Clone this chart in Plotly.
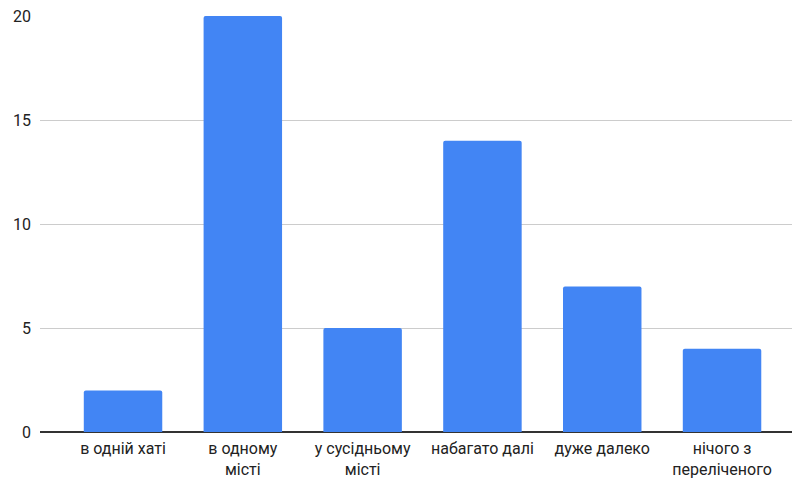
import plotly.graph_objects as go

categories = [
    "в одній хаті",
    "в одному<br>місті",
    "у сусідньому<br>місті",
    "набагато далі",
    "дуже далеко",
    "нічого з<br>переліченого",
]
values = [2, 20, 5, 14, 7, 4]
y_ticks = [0, 5, 10, 15, 20]

fig = go.Figure(
    go.Bar(
        x=list(range(len(categories))),
        y=values,
        marker=dict(color="#4285F4", line=dict(width=0)),
        hoverinfo="skip",
    )
)

fig.update_layout(
    width=792,
    height=480,
    margin=dict(l=40, r=0, t=16, b=48),
    paper_bgcolor="white",
    plot_bgcolor="white",
    bargap=0.345,
    barcornerradius=2,
    showlegend=False,
    font=dict(family="Roboto, Arial, sans-serif", size=16, color="#222222"),
)

fig.update_xaxes(
    tickmode="array",
    tickvals=list(range(len(categories))),
    ticktext=categories,
    range=[-0.693, 5.584],
    showgrid=False,
    showline=False,
    zeroline=False,
    ticks="",
    ticklabelstandoff=5,
    automargin=False,
    tickfont=dict(size=16, color="#222222"),
)

fig.update_yaxes(
    range=[0, 20],
    tickmode="array",
    tickvals=y_ticks,
    ticktext=[str(v) for v in y_ticks],
    showgrid=True,
    gridcolor="#cccccc",
    gridwidth=1,
    zeroline=True,
    zerolinecolor="#333333",
    zerolinewidth=1.5,
    showline=False,
    ticks="",
    ticklabelstandoff=8,
    automargin=False,
    tickfont=dict(size=16, color="#222222"),
)

fig.write_html("out.html")
